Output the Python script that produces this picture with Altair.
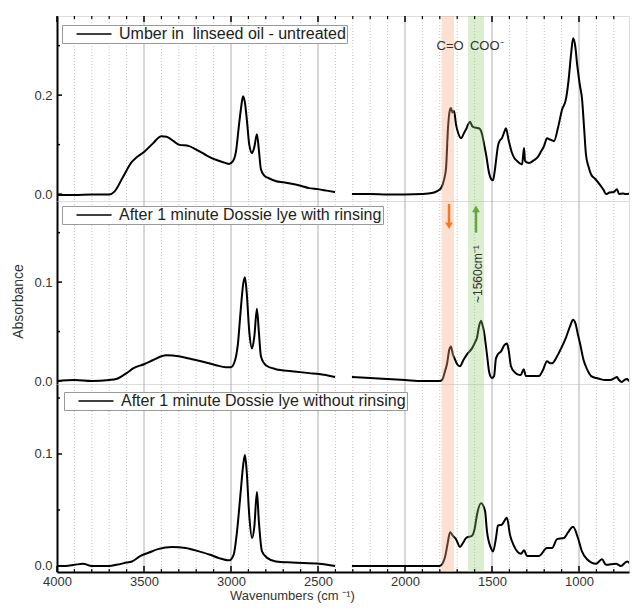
import altair as alt
import pandas as pd

FONT = "Liberation Sans"

# ---------------- data ----------------
labels = [
    "Umber in\u00a0\u00a0linseed oil - untreated\u00a0",
    "After 1 minute Dossie lye with rinsing\u00a0",
    "After 1 minute Dossie lye without rinsing",
]

# Series 1 – untreated
wn1a = [4000, 3900, 3800, 3700, 3670, 3620, 3570, 3550, 3500, 3450, 3400, 3370, 3330, 3300, 3241, 3200,
        3150, 3100, 3050, 3011, 2990, 2971, 2954, 2940, 2931, 2920, 2908, 2895, 2879, 2866, 2851, 2840,
        2828, 2810, 2782, 2740, 2700, 2667, 2600, 2552, 2500, 2450, 2402]
ab1a = [-0.002, -0.002, -0.001, -0.001, 0.005, 0.035, 0.065, 0.072, 0.085, 0.102, 0.117, 0.116, 0.107,
        0.100, 0.097, 0.090, 0.080, 0.071, 0.065, 0.061, 0.066, 0.087, 0.140, 0.180, 0.198, 0.185, 0.147,
        0.100, 0.083, 0.095, 0.121, 0.090, 0.050, 0.038, 0.032, 0.026, 0.024, 0.022, 0.017, 0.012, 0.010,
        0.007, 0.004]
wn1b = [2305, 2200, 2100, 2000, 1900, 1845, 1815, 1793, 1775, 1764, 1753, 1742, 1736, 1727, 1718, 1707,
        1693, 1678, 1660, 1649, 1637, 1626, 1615, 1603, 1590, 1575, 1557, 1545, 1534, 1517, 1504, 1494,
        1485, 1477, 1466, 1455, 1443, 1430, 1420, 1405, 1385, 1370, 1356, 1340, 1327, 1316, 1310, 1300,
        1287, 1260, 1241, 1220, 1201, 1184, 1165, 1144, 1120, 1098, 1075, 1060, 1045, 1034, 1022, 1010,
        995, 983, 970, 960, 945, 931, 905, 874, 858, 845, 825, 800, 782, 770, 750, 730, 700, 680, 660]
ab1b = [0.000, 0.000, -0.001, -0.001, 0.000, 0.002, 0.006, 0.012, 0.030, 0.053, 0.133, 0.170, 0.174, 0.165,
        0.168, 0.141, 0.122, 0.113, 0.124, 0.131, 0.141, 0.146, 0.138, 0.135, 0.134, 0.133, 0.121, 0.100,
        0.080, 0.043, 0.030, 0.028, 0.045, 0.067, 0.097, 0.108, 0.113, 0.125, 0.133, 0.110, 0.083, 0.072,
        0.067, 0.062, 0.060, 0.093, 0.067, 0.064, 0.063, 0.068, 0.073, 0.085, 0.097, 0.113, 0.110, 0.107,
        0.135, 0.170, 0.192, 0.230, 0.285, 0.315, 0.300, 0.260, 0.220, 0.194, 0.130, 0.080, 0.055, 0.040,
        0.030, 0.016, 0.008, 0.000, 0.003, 0.004, 0.010, 0.000, 0.001, 0.000, 0.001, 0.000, 0.000]

# Series 2 – with rinsing
wn2a = [4000, 3900, 3800, 3700, 3660, 3600, 3560, 3500, 3450, 3400, 3370, 3300, 3224, 3150, 3086, 3030,
        3000, 2975, 2960, 2945, 2930, 2920, 2910, 2895, 2879, 2866, 2851, 2840, 2828, 2800, 2742, 2650,
        2550, 2494, 2402]
ab2a = [0.000, 0.001, 0.000, 0.001, 0.002, 0.008, 0.013, 0.017, 0.021, 0.025, 0.026, 0.025, 0.022, 0.019,
        0.016, 0.014, 0.014, 0.022, 0.038, 0.070, 0.098, 0.105, 0.090, 0.050, 0.033, 0.045, 0.073, 0.050,
        0.025, 0.016, 0.012, 0.010, 0.008, 0.007, 0.004]
wn2b = [2305, 2200, 2100, 2000, 1900, 1800, 1787, 1770, 1759, 1745, 1736, 1725, 1713, 1700, 1684, 1665,
        1644, 1615, 1595, 1586, 1575, 1563, 1555, 1546, 1529, 1515, 1500, 1488, 1478, 1466, 1448, 1430,
        1414, 1405, 1391, 1370, 1356, 1335, 1318, 1305, 1270, 1230, 1205, 1184, 1165, 1155, 1126, 1100,
        1075, 1050, 1034, 1020, 1005, 994, 975, 954, 930, 900, 879, 850, 820, 795, 782, 770, 753, 740, 724,
        710, 690, 660]
ab2b = [0.004, 0.003, 0.002, 0.001, 0.000, 0.000, 0.001, 0.010, 0.017, 0.032, 0.035, 0.027, 0.022, 0.017,
        0.015, 0.021, 0.027, 0.033, 0.040, 0.044, 0.055, 0.061, 0.057, 0.050, 0.027, 0.008, 0.003, 0.005,
        0.022, 0.027, 0.030, 0.036, 0.038, 0.032, 0.015, 0.009, 0.007, 0.006, 0.012, 0.005, 0.005, 0.005,
        0.012, 0.020, 0.018, 0.018, 0.025, 0.034, 0.044, 0.056, 0.062, 0.058, 0.046, 0.038, 0.022, 0.012,
        0.005, 0.003, 0.002, 0.001, 0.001, 0.003, 0.004, 0.001, -0.001, 0.001, 0.002, 0.000, 0.002, 0.003]

# Series 3 – without rinsing
wn3a = [4000, 3950, 3900, 3850, 3800, 3700, 3660, 3600, 3570, 3520, 3471, 3420, 3339, 3260, 3184, 3120,
        3069, 3011, 2985, 2966, 2945, 2930, 2920, 2910, 2895, 2879, 2866, 2851, 2840, 2822, 2790, 2742,
        2650, 2494, 2402]
ab3a = [0.000, 0.000, 0.001, 0.002, 0.000, 0.000, 0.001, 0.003, 0.004, 0.009, 0.012, 0.015, 0.017, 0.016,
        0.013, 0.010, 0.007, 0.005, 0.010, 0.030, 0.065, 0.090, 0.099, 0.085, 0.045, 0.025, 0.035, 0.066,
        0.040, 0.013, 0.007, 0.004, 0.003, 0.002, 0.000]
wn3b = [2305, 2200, 2000, 1850, 1800, 1785, 1770, 1755, 1741, 1725, 1707, 1684, 1665, 1649, 1615, 1600,
        1586, 1563, 1540, 1529, 1506, 1494, 1477, 1466, 1443, 1414, 1397, 1374, 1333, 1316, 1299, 1230,
        1184, 1155, 1126, 1086, 1063, 1034, 1006, 983, 954, 902, 868, 845, 787, 759, 724, 695, 660]
ab3b = [0.000, 0.000, 0.000, 0.000, 0.000, 0.002, 0.008, 0.020, 0.030, 0.027, 0.024, 0.017, 0.021, 0.025,
        0.027, 0.033, 0.046, 0.056, 0.049, 0.031, 0.016, 0.013, 0.025, 0.036, 0.037, 0.043, 0.028, 0.018,
        0.011, 0.014, 0.009, 0.009, 0.016, 0.016, 0.024, 0.025, 0.030, 0.035, 0.025, 0.013, 0.006, 0.002,
        0.006, 0.001, 0.002, 0.000, 0.004, 0.001, 0.001]

# highlighted bands (wavenumber ranges)
band_co = [1790, 1718]
band_coo = [1638, 1546]

# axis ticks
x_major = [4000, 3500, 3000, 2500, 2000, 1500, 1000]
x_minor = [3900, 3800, 3700, 3600, 3400, 3300, 3200, 3100, 2900, 2800, 2700, 2600, 2400, 2300, 2200,
           2100, 1900, 1800, 1700, 1600, 1400, 1300, 1200, 1100, 900, 800]
y_major = [[0.0, 0.2], [0.0, 0.1], [0.0, 0.1]]
y_minor = [[0.1, 0.3], [0.05, 0.15], [0.05, 0.15]]
y_domains = [[-0.014, 0.36], [-0.003, 0.182], [-0.0054, 0.1625]]

# annotations
ann1_text = ["C=O", "COO\u207b"]
ann1_wn = [1741, 1530]
ann1_y = [0.299, 0.299]
arrow_wn = [1747, 1592]
arrow_from = [0.179, 0.150]
arrow_to = [0.157, 0.174]
arrow_shape = ["triangle-down", "triangle-up"]
arrow_col = ["#f07a2a", "#62a83a"]
note_text = ["~1560cm\u207b\u00b9"]
note_wn = [1580]
note_y = [0.108]

# ---------------- layout ----------------
W = 572
Hs = [185, 183, 188]
XDOM = [4000, 4000 - W / 0.174]
legend_pos = [(5, 9), (5, 5), (7, 8)]

xscale = alt.Scale(domain=XDOM, nice=False, zero=False)


def make_df(wa, aa, wb, ab, label):
    rows = [{"wn": w, "a": a, "seg": "A", "label": label} for w, a in zip(wa, aa)]
    rows += [{"wn": w, "a": a, "seg": "B", "label": label} for w, a in zip(wb, ab)]
    return pd.DataFrame(rows)


dfs = [make_df(wn1a, ab1a, wn1b, ab1b, labels[0]),
       make_df(wn2a, ab2a, wn2b, ab2b, labels[1]),
       make_df(wn3a, ab3a, wn3b, ab3b, labels[2])]


def panel(i):
    H = Hs[i]
    last = i == 2
    yscale = alt.Scale(domain=y_domains[i], nice=False, zero=False)
    if last:
        xaxis = alt.Axis(values=x_major, ticks=False, grid=False, domain=True,
                         domainColor="black", domainWidth=2, format="d", labelFlush=False,
                         labelFont=FONT, labelFontSize=13, labelColor="#333", labelPadding=3,
                         title="Wavenumbers (cm \u207b\u00b9)",
                         titleFont=FONT, titleFontSize=13, titleFontWeight="normal", titleColor="#333",
                         titlePadding=1, titleX=235)
    else:
        xaxis = None
    yaxis = alt.Axis(values=y_major[i], ticks=False, grid=False, domain=True, domainColor="black",
                     domainWidth=2, format=".1f", labelFont=FONT, labelFontSize=13, labelColor="#333",
                     labelPadding=5, labelFlush=False,
                     title="Absorbance" if i == 1 else None, titleFont=FONT, titleFontSize=14,
                     titleFontWeight="normal", titleColor="#333", titlePadding=8, titleY=100)

    X = lambda f: alt.X(f, type="quantitative", scale=xscale, axis=xaxis)
    Y = lambda f: alt.Y(f, type="quantitative", scale=yscale, axis=yaxis)

    grid_minor = alt.Chart(pd.DataFrame({"g": x_minor})).mark_rule(
        color="#c4c4c4", strokeWidth=1, strokeDash=[1, 2]).encode(x=X("g"))
    grid_major = alt.Chart(pd.DataFrame({"g": x_major[1:]})).mark_rule(
        color="#b0b0b0", strokeWidth=1).encode(x=X("g"))

    lx, ly = legend_pos[i]
    line = alt.Chart(dfs[i]).mark_line(strokeWidth=2, clip=True, interpolate="monotone").encode(
        x=X("wn"), y=Y("a"), detail="seg:N",
        color=alt.Color("label:N", scale=alt.Scale(domain=[labels[i]], range=["black"]),
                        legend=alt.Legend(orient="none", legendX=lx, legendY=ly, title=None,
                                          symbolType="M-2.5,0H2.5", symbolSize=196, symbolStrokeWidth=1.5,
                                          symbolStrokeColor="black", symbolOffset=23, labelOffset=17,
                                          labelFont=FONT, labelFontSize=16, labelColor="#222",
                                          labelLimit=600, strokeColor="#9a9a9a", fillColor="white",
                                          padding=1)))

    bands = alt.Chart(pd.DataFrame({"b1": [band_co[0]], "b2": [band_co[1]]})).mark_rect(
        color="#f5a77f", opacity=0.35).encode(x=X("b1"), x2="b2")
    bands2 = alt.Chart(pd.DataFrame({"b1": [band_coo[0]], "b2": [band_coo[1]]})).mark_rect(
        color="#8fcb6d", opacity=0.32).encode(x=X("b1"), x2="b2")

    ymaj_t = alt.Chart(pd.DataFrame({"t": y_major[i]})).mark_rule(color="black", strokeWidth=1.5).encode(
        y=Y("t"), x=alt.value(0), x2=alt.value(5))
    ymin_t = alt.Chart(pd.DataFrame({"t": y_minor[i]})).mark_rule(color="black", strokeWidth=1.5).encode(
        y=Y("t"), x=alt.value(0), x2=alt.value(3))

    layers = [grid_minor, grid_major, line, bands, bands2, ymaj_t, ymin_t]

    if i == 0:
        layers.append(alt.Chart(pd.DataFrame({"t": x_major})).mark_rule(color="black", strokeWidth=1.5).encode(
            x=X("t"), y=alt.value(0), y2=alt.value(6)))
        layers.append(alt.Chart(pd.DataFrame({"t": x_minor})).mark_rule(color="black", strokeWidth=1.2).encode(
            x=X("t"), y=alt.value(0), y2=alt.value(3)))
        layers.append(alt.Chart(pd.DataFrame({"t": ann1_text, "w": ann1_wn, "y": ann1_y})).mark_text(
            font=FONT, fontSize=13, color="#333").encode(x=X("w"), y=Y("y"), text="t:N"))
    if i == 1:
        adf = pd.DataFrame({"w": arrow_wn, "a0": arrow_from, "a1": arrow_to, "s": arrow_shape, "c": arrow_col})
        layers.append(alt.Chart(adf).mark_rule(strokeWidth=2.5).encode(
            x=X("w"), y=Y("a0"), y2="a1", color=alt.Color("c:N", scale=None)))
        layers.append(alt.Chart(adf).mark_point(filled=True, size=60, opacity=1).encode(
            x=X("w"), y=Y("a1"), shape=alt.Shape("s:N", scale=None), color=alt.Color("c:N", scale=None)))
        layers.append(alt.Chart(pd.DataFrame({"t": note_text, "w": note_wn, "y": note_y})).mark_text(
            font=FONT, fontSize=12, color="#333", angle=270).encode(x=X("w"), y=Y("y"), text="t:N"))
    if i == 2:
        layers.append(alt.Chart(pd.DataFrame({"t": x_major})).mark_rule(color="black", strokeWidth=1.5).encode(
            x=X("t"), y=alt.value(H), y2=alt.value(H - 6)))
        layers.append(alt.Chart(pd.DataFrame({"t": x_minor})).mark_rule(color="black", strokeWidth=1.2).encode(
            x=X("t"), y=alt.value(H), y2=alt.value(H - 3)))

    return alt.layer(*layers).properties(width=W, height=H)


chart = alt.vconcat(panel(0), panel(1), panel(2), spacing=0, bounds="flush").resolve_scale(
    color="independent", y="independent").resolve_legend(color="independent").properties(
    padding={"left": 3, "top": 6, "right": 0, "bottom": 0}
).configure_view(stroke="#8a8a8a", strokeWidth=1.5).configure(background="white")

chart.save("out.html", embed_options={"renderer": "svg", "actions": False})
